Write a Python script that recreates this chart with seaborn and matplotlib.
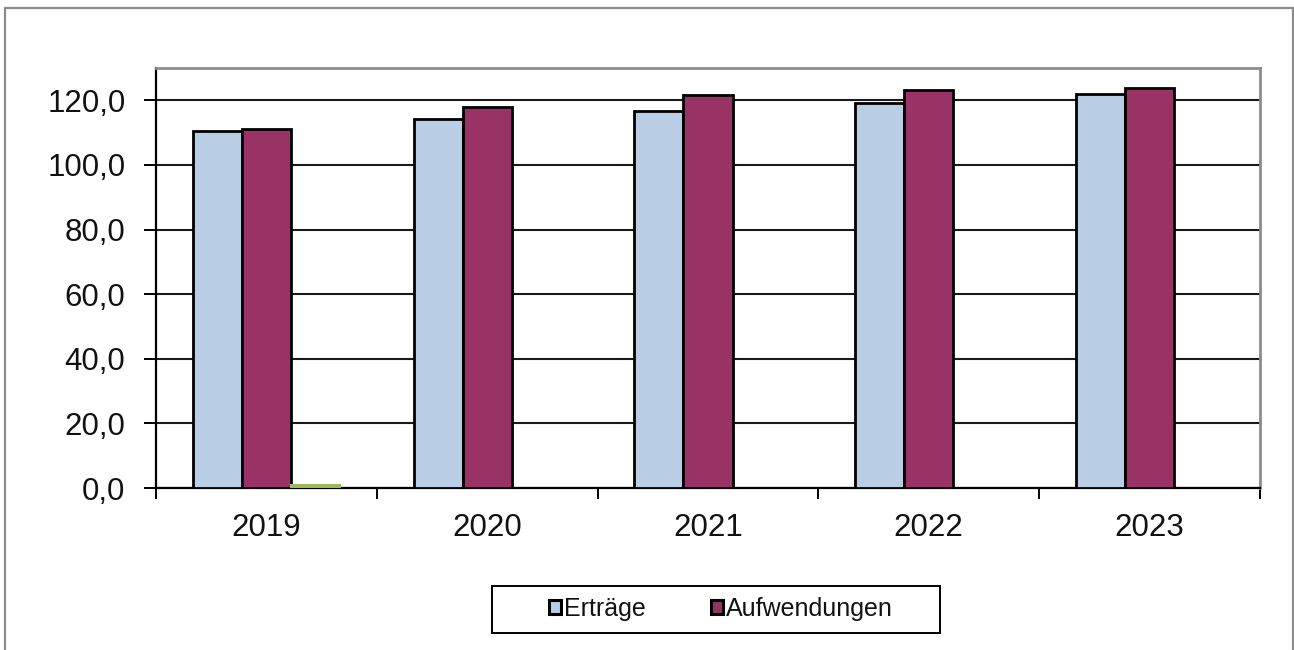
import matplotlib
matplotlib.use("Agg")
import matplotlib.pyplot as plt
from matplotlib.patches import Rectangle, Patch
from matplotlib.ticker import FuncFormatter, FixedLocator
import seaborn as sns
import pandas as pd

# Werte in Mio. EUR
jahre = ["2019", "2020", "2021", "2022", "2023"]
ertraege = [110.5, 114.3, 116.6, 119.3, 122.1]
aufwendungen = [111.0, 117.9, 121.6, 123.1, 123.9]
saldo = [0.8, 0.0, 0.0, 0.0, 0.0]

serien = ["Erträge", "Aufwendungen", "Saldo"]
farben = ["#b9cde5", "#993366", "#9bbb59"]

df = pd.DataFrame({
    "Jahr": jahre * 3,
    "Wert": ertraege + aufwendungen + saldo,
    "Serie": [serien[0]] * 5 + [serien[1]] * 5 + [serien[2]] * 5,
})

sns.set_theme(style="white")
plt.rcParams["font.family"] = ["Liberation Sans", "DejaVu Sans"]

fig = plt.figure(figsize=(12.94, 6.5), dpi=100)
ax = fig.add_axes([156 / 1294, 1 - 488 / 650, (1260 - 156) / 1294, (488 - 68) / 650])

sns.barplot(data=df, x="Jahr", y="Wert", hue="Serie", hue_order=serien,
            palette=farben, width=0.667, dodge=True, ax=ax, legend=False,
            edgecolor="black", linewidth=2, saturation=1, zorder=3)

# grüne Serie ohne schwarze Umrandung, leere Balken ohne Kontur
for bar in ax.patches:
    fc = bar.get_facecolor()
    if abs(fc[0] - 0x9b / 255) < 0.02 and abs(fc[1] - 0xbb / 255) < 0.02:
        bar.set_edgecolor(farben[2])
        bar.set_linewidth(1.5)
    if bar.get_height() == 0:
        bar.set_linewidth(0)

ax.set_ylim(0, 130)
ax.set_xlim(-0.5, 4.5)
ax.yaxis.set_major_locator(FixedLocator([0, 20, 40, 60, 80, 100, 120]))
ax.yaxis.set_major_formatter(FuncFormatter(lambda v, p: f"{v:.1f}".replace(".", ",")))
ax.grid(axis="y", color="#1a1a1a", linewidth=1.5, zorder=0)
ax.set_axisbelow(True)

ax.set_xlabel("")
ax.set_ylabel("")

ax.tick_params(axis="y", which="major", direction="out", length=9, width=1.4,
               color="black", left=True, labelsize=22.5, pad=13, labelcolor="#111111")
ax.tick_params(axis="x", which="major", length=0, labelsize=22.5, pad=18,
               labelcolor="#111111")
ax.set_xticks([-0.5, 0.5, 1.5, 2.5, 3.5, 4.5], minor=True)
ax.tick_params(axis="x", which="minor", direction="out", length=8, width=1.4,
               color="black", bottom=True)

for side in ["left", "bottom"]:
    ax.spines[side].set_color("black")
    ax.spines[side].set_linewidth(1.6)
for side in ["top", "right"]:
    ax.spines[side].set_visible(True)
    ax.spines[side].set_color("#8c8c8c")
    ax.spines[side].set_linewidth(2)

handles = [Patch(facecolor=farben[0], edgecolor="black", linewidth=2.2),
           Patch(facecolor=farben[1], edgecolor="black", linewidth=2.2)]
leg = fig.legend(handles, serien[:2], loc="center", bbox_to_anchor=(721 / 1294, 1 - 609 / 650),
                 ncol=2, fontsize=18, frameon=False,
                 handlelength=0.5, handleheight=0.5, handletextpad=0.12,
                 columnspacing=2.6, borderpad=0.3, borderaxespad=0)
for t in leg.get_texts():
    t.set_color("#111111")

# Legendenrahmen
fig.patches.append(Rectangle((492 / 1294, 1 - 633 / 650), (940 - 492) / 1294, (633 - 586) / 650,
                             transform=fig.transFigure, fill=False,
                             edgecolor="black", linewidth=1.4))

# Rahmen um das Diagramm
fig.patches.append(Rectangle((5 / 1294, -0.05), (1293 - 5) / 1294, 1.05 - 8 / 650,
                             transform=fig.transFigure, fill=False,
                             edgecolor="#8c8c8c", linewidth=1.6))

fig.savefig("out.png", dpi=100, facecolor="white")
